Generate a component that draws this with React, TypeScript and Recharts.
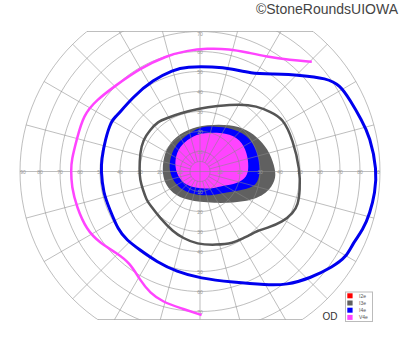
import React from 'react';
import { ComposedChart, Scatter, XAxis, YAxis, ReferenceLine } from 'recharts';

// ---- grid definition (degrees of eccentricity) ----
const RING_DEG = [5, 10, 20, 30, 40, 50, 60, 70, 80, 90];
const SPOKE_ANGLES = [0, 15, 30, 45, 60, 75, 90, 105, 120, 135, 150, 165, 180, 195, 210, 225, 240, 255, 270, 285, 300, 315, 330, 345];
const AXIS_LABELS = [10, 20, 30, 40, 50, 60, 70, 80, 90];

// ---- legend ----
const SERIES_NAMES = ['I2e', 'I3e', 'I4e', 'V4e'];
const SERIES_COLORS = ['#ff0000', '#606060', '#0000ff', '#ff44ff'];

// ---- isopters, [x, y] in degrees (x: temporal/nasal, y: superior/inferior) ----
const V4E_LINE: [number, number][] = [
  [55.9, 54.9], [45, 55.75], [33.3, 57.4], [23.3, 59.6], [15, 61.25], [3.3, 61.6], [-6.7, 60.4],
  [-16.7, 57.9], [-30, 51.6], [-42.5, 42.75], [-51.7, 35.75], [-58.3, 28.25], [-61.7, 15.75],
  [-64.2, 5.75], [-64.5, 0.75], [-64.2, -7.6], [-61.7, -17.6], [-56.7, -29.25], [-50, -35.75],
  [-41.7, -40.75], [-35, -45.75], [-30, -54.25], [-25, -60.75], [-18.5, -65.25], [-10, -68.25],
  [0.8, -71.75],
];

const I4E_LINE: [number, number][] = [
  [88.5, 0.75], [85, 17.4], [80.8, 25.75], [75, 35.75], [70, 43.25], [63.3, 46.6], [50, 48.25],
  [36.5, 48.75], [25, 49.1], [16.5, 51.25], [6.5, 52.4], [-6.7, 52.4], [-13.5, 50.75], [-23.5, 45.75],
  [-33.5, 37.4], [-42.5, 26.75], [-44.2, 25.75], [-47.5, 15.75], [-49.2, 5.75], [-49.5, 0.75],
  [-48.4, -10.75], [-45, -19.25], [-40.9, -29.25], [-36.7, -34.25], [-30, -39.25], [-21.7, -45.1],
  [-11.7, -50.1], [0, -53.4], [16.5, -55.4], [33.3, -56.75], [43.3, -56.75], [55, -53.4],
  [66.5, -47.6], [73.3, -42.6], [76.5, -35.75], [81.5, -29.25], [85, -20.75], [87.5, -10.75],
];

const I3E_LINE: [number, number][] = [
  [50, 0.75], [46.5, 15.75], [41.5, 26.6], [35, 29.9], [28.3, 32.75], [20, 33.75], [8.3, 32.75],
  [0, 31.6], [-10, 29.1], [-16.7, 26.6], [-21, 25], [-25, 20.75], [-28.5, 15.75], [-30, 9.25],
  [-30.3, 0.75], [-30, -4.25], [-28.5, -9.25], [-26.7, -14.25], [-25, -16.75], [-20, -23.25],
  [-13.5, -30.1], [-8.5, -33.25], [-1.7, -36.4], [8.3, -36.75], [16.5, -35.9], [21.5, -33.4],
  [25, -31.75], [28.3, -29.75], [33.3, -28.4], [41.5, -25.1], [46.5, -20.75], [49, -16.75],
  [50, -9.25],
];

const I3E_AREA: [number, number][] = [
  [3.5, 23.5], [15, 23.5], [23.5, 21], [30, 16], [35, 9.5], [37.8, 0.75], [37.8, -4.25],
  [33.8, -11], [23.5, -15.4], [6.5, -16], [-6.5, -14.5], [-13.8, -11], [-17.8, -5.75],
  [-19, 0.75], [-17.8, 9.5], [-13.8, 16], [-6.5, 21],
];

const I4E_AREA: [number, number][] = [
  [0, 22.5], [7.5, 22.5], [15, 21.9], [23.6, 18.5], [28.6, 10.75], [30.3, 2.4], [29.4, -4.25],
  [26.7, -7.9], [20, -9.5], [13.35, -10.4], [6.5, -12], [0, -12], [-6.8, -10.4],
  [-11.9, -7], [-15.3, -0.75], [-15.3, 5.75], [-12.8, 12.6], [-7.6, 17.7],
];

const V4E_AREA: [number, number][] = [
  [1.5, 19.5], [13.35, 19.5], [20.2, 16], [23.6, 9.25], [24.4, 2.4], [23.6, -2.8],
  [18.5, -6.1], [11.5, -7], [6.5, -8.6], [-1.65, -8.6], [-8.7, -6.1], [-11.9, -0.75],
  [-12.8, 5.75], [-10.2, 12.6], [-5, 17],
];

const toPts = (a: [number, number][]) => a.map(([x, y]) => ({ x, y }));
const rad = (d: number) => (d * Math.PI) / 180;

const ringPts = (r: number) => {
  const pts: { x: number; y: number }[] = [];
  for (let a = 0; a < 360; a += 3) pts.push({ x: r * Math.cos(rad(a)), y: r * Math.sin(rad(a)) });
  return pts;
};
const spokePts = (a: number) => {
  const inner = a % 90 === 0 ? 0 : RING_DEG[0];
  const outer = RING_DEG[RING_DEG.length - 1];
  return [
    { x: inner * Math.cos(rad(a)), y: inner * Math.sin(rad(a)) },
    { x: outer * Math.cos(rad(a)), y: outer * Math.sin(rad(a)) },
  ];
};

const LABEL_PTS = [
  ...AXIS_LABELS.map((v) => ({ x: v === 90 ? 88.5 : v, y: 0, t: String(v) })),
  ...AXIS_LABELS.map((v) => ({ x: -(v === 90 ? 88.5 : v), y: 0, t: String(v) })),
  ...AXIS_LABELS.filter((v) => v <= 70).map((v) => ({ x: 0, y: v === 70 ? 69 : v, t: String(v) })),
  ...AXIS_LABELS.filter((v) => v <= 70).map((v) => ({ x: 0, y: -v, t: String(v) })),
];

const TOP_Y = 70;
const BOTTOM_Y = -74;
const OUTER = 90;
const topHalf = Math.sqrt(OUTER * OUTER - TOP_Y * TOP_Y);
const botHalf = Math.sqrt(OUTER * OUTER - BOTTOM_Y * BOTTOM_Y);

const noShape = () => <g />;
const GRID = '#888888';

export default function App() {
  return (
    <div style={{ position: 'absolute', left: 0, top: 0, width: 400, height: 352, background: '#fff' }}>
      <ComposedChart
        width={400}
        height={352}
        margin={{ top: 31.5, right: 0, bottom: 32.5, left: 0 }}
        style={{ fontFamily: '"Liberation Sans", Arial, sans-serif' }}
      >
        <XAxis type="number" dataKey="x" domain={[-100, 100]} hide allowDataOverflow />
        <YAxis type="number" dataKey="y" domain={[BOTTOM_Y, TOP_Y]} hide allowDataOverflow />

        {/* filled areas */}
        <Scatter data={toPts(I3E_AREA)} isAnimationActive={false} legendType="none" shape={noShape}
          line={{ fill: '#606060', stroke: 'none' }} lineJointType="basisClosed" />
        <Scatter data={toPts(I4E_AREA)} isAnimationActive={false} legendType="none" shape={noShape}
          line={{ fill: '#0000ff', stroke: 'none' }} lineJointType="basisClosed" />
        <Scatter data={toPts(V4E_AREA)} isAnimationActive={false} legendType="none" shape={noShape}
          line={{ fill: '#ff44ff', stroke: 'none' }} lineJointType="basisClosed" />

        {/* polar grid */}
        {RING_DEG.map((r) => (
          <Scatter key={'r' + r} data={ringPts(r)} isAnimationActive={false} legendType="none" shape={noShape}
            line={{ stroke: GRID, strokeOpacity: 0.55, strokeWidth: 1, fill: 'none' }} lineJointType="linearClosed" />
        ))}
        {SPOKE_ANGLES.map((a) => (
          <Scatter key={'s' + a} data={spokePts(a)} isAnimationActive={false} legendType="none" shape={noShape}
            line={{ stroke: GRID, strokeOpacity: 0.55, strokeWidth: 1 }} lineJointType="linear" />
        ))}
        <ReferenceLine segment={[{ x: -topHalf, y: TOP_Y }, { x: topHalf, y: TOP_Y }]} stroke={GRID} strokeOpacity={0.55} ifOverflow="visible" />
        <ReferenceLine segment={[{ x: -botHalf, y: BOTTOM_Y }, { x: botHalf, y: BOTTOM_Y }]} stroke={GRID} strokeOpacity={0.55} ifOverflow="visible" />

        {/* tick labels */}
        <Scatter data={LABEL_PTS} isAnimationActive={false} legendType="none"
          shape={(p: any) => (
            <text x={p.cx} y={p.cy} textAnchor="middle" dominantBaseline="central" fontSize={5} fill="#999">
              {p.payload.t}
            </text>
          )} />

        {/* isopter lines */}
        <Scatter data={toPts(I3E_LINE)} isAnimationActive={false} legendType="none" shape={noShape}
          line={{ stroke: '#555555', strokeWidth: 2.5, fill: 'none' }} lineJointType="basisClosed" />
        <Scatter data={toPts(I4E_LINE)} isAnimationActive={false} legendType="none" shape={noShape}
          line={{ stroke: '#0000ee', strokeWidth: 3, fill: 'none' }} lineJointType="basisClosed" />
        <Scatter data={toPts(V4E_LINE)} isAnimationActive={false} legendType="none" shape={noShape}
          line={{ stroke: '#ff44ff', strokeWidth: 2.5, fill: 'none' }} lineJointType="basis" />
      </ComposedChart>

      <svg width={400} height={352} style={{ position: 'absolute', left: 0, top: 0, pointerEvents: 'none' }}
        fontFamily='"Liberation Sans", Arial, sans-serif'>
        <text x={398} y={13.5} textAnchor="end" fontSize={14} fill="#444">©StoneRoundsUIOWA</text>
        <text x={322.5} y={320} fontSize={10} fill="#333">OD</text>
        <rect x={345.5} y={292} width={27} height={29.5} fill="#fff" stroke="#bbb" strokeWidth={1} />
        {SERIES_NAMES.map((n, i) => (
          <g key={n}>
            <rect x={347.3} y={293.3 + i * 7.2} width={5.3} height={5} fill={SERIES_COLORS[i]} />
            <text x={359} y={297.6 + i * 7.2} fontSize={5} fill="#555">{n}</text>
          </g>
        ))}
      </svg>
    </div>
  );
}
